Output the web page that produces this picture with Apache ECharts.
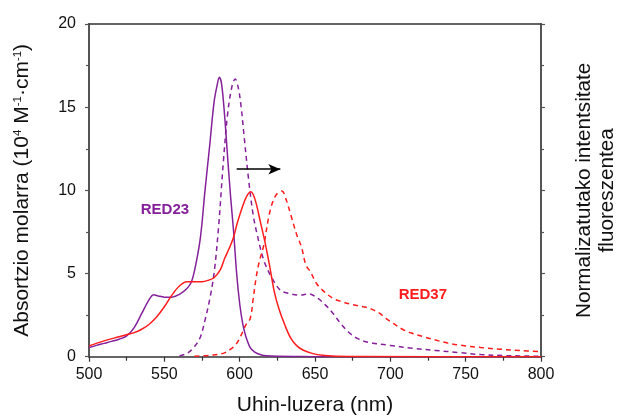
<!DOCTYPE html>
<html>
<head>
<meta charset="utf-8">
<script src="https://cdn.jsdelivr.net/npm/echarts@6/dist/echarts.min.js"></script>
<style>
html,body{margin:0;padding:0;background:#fff;}
#chart{width:619px;height:418px;}
</style>
</head>
<body>
<div id="chart"></div>
<script>
// ---- Data ----
const xTicks = [500, 550, 600, 650, 700, 750, 800];
const yTicks = [0, 5, 10, 15, 20];

// RED23 absorption (solid purple), 10^4 M^-1 cm^-1
const red23AbsWl = [500, 505, 510, 515, 520, 525, 530, 535, 540, 543, 546, 550, 555, 560, 565, 568, 571, 574, 577, 580, 583, 585, 586.5, 588, 590, 592, 594, 596, 598, 600, 602, 604, 607, 610, 614, 618, 625, 640, 660, 800];
const red23Abs   = [0.55, 0.68, 0.8, 0.92, 1.05, 1.25, 1.75, 2.6, 3.45, 3.72, 3.65, 3.58, 3.57, 3.75, 4.1, 4.5, 5.6, 7.2, 10.0, 12.6, 15.3, 16.3, 16.8, 16.4, 14.5, 12.0, 9.6, 7.5, 5.0, 3.2, 2.0, 1.25, 0.55, 0.28, 0.12, 0.05, 0.02, 0.01, 0, 0];

// RED37 absorption (solid red)
const red37AbsWl = [500, 510, 520, 526, 530, 535, 540, 545, 550, 555, 560, 565, 570, 575, 580, 583, 587, 590, 593, 596, 598, 600, 603, 605, 607.3, 609, 611, 614, 617, 620, 623, 626, 630, 634, 638, 642, 648, 655, 665, 680, 800];
const red37Abs   = [0.65, 0.95, 1.2, 1.35, 1.45, 1.65, 1.95, 2.4, 3.0, 3.7, 4.25, 4.5, 4.5, 4.5, 4.62, 4.75, 5.2, 5.9, 6.5, 7.2, 7.9, 8.5, 9.3, 9.7, 9.92, 9.75, 9.2, 8.0, 6.8, 5.4, 3.9, 2.9, 1.9, 1.1, 0.65, 0.4, 0.2, 0.08, 0.03, 0.01, 0];

// RED23 fluorescence (dashed purple), normalized
const red23FlWl = [560, 565, 570, 574, 577, 580, 583, 586, 589, 592, 595, 597, 599, 601, 603, 606, 609, 612, 616, 621, 627, 633, 640, 646, 652, 657, 662, 667, 672, 678, 686, 700, 715, 730, 745, 760, 775, 790, 800];
const red23Fl   = [0.05, 0.2, 0.6, 1.2, 2.2, 3.4, 5.0, 7.8, 11.5, 14.6, 16.3, 16.7, 16.2, 15.0, 13.2, 10.6, 8.5, 7.2, 5.8, 4.8, 4.0, 3.8, 3.7, 3.78, 3.5, 3.1, 2.6, 2.0, 1.5, 1.1, 0.85, 0.68, 0.5, 0.38, 0.25, 0.13, 0.07, 0.04, 0.02];

// RED37 fluorescence (dashed red), normalized
const red37FlWl = [570, 580, 589, 594, 598, 601, 604, 607, 609, 611, 613, 616, 620, 624, 628, 631, 634, 638, 641, 644, 647, 651, 655, 662, 668, 673, 679, 684, 689, 693, 697, 702, 708, 714, 722, 730, 738, 746, 760, 773, 786, 800];
const red37Fl   = [0.02, 0.08, 0.2, 0.45, 0.8, 1.3, 1.9, 2.3, 3.5, 4.8, 5.7, 6.7, 8.7, 9.7, 9.96, 9.4, 8.5, 7.3, 6.6, 5.5, 5.1, 4.4, 4.0, 3.5, 3.3, 3.17, 3.05, 2.97, 2.8, 2.6, 2.3, 2.0, 1.65, 1.42, 1.2, 1.0, 0.82, 0.7, 0.55, 0.45, 0.37, 0.3];

// Annotations
const arrowFrom = [598, 11.27];
const arrowTo   = [627, 11.27];
const label23 = {text: 'RED23', at: [550.4, 8.82]};
const label37 = {text: 'RED37', at: [721.6, 3.71]};

const purple = '#85209a';
const red = '#ff1c1c';
const FONT = '"Liberation Sans", Arial, sans-serif';

function zip(xs, ys){ return xs.map((x,i)=>[x, ys[i]]); }

const chart = echarts.init(document.getElementById('chart'), null, {renderer:'canvas'});
const axisCol = '#555';

const option = {
  backgroundColor: '#fff',
  animation: false,
  textStyle: {fontFamily: FONT},
  grid: {left: 89, right: 78, top: 24, bottom: 61.3, containLabel: false, outerBoundsMode: 'none'},
  xAxis: [{
    type: 'value', min: xTicks[0], max: xTicks[xTicks.length-1], interval: 50,
    position: 'bottom',
    name: 'Uhin-luzera (nm)', nameLocation: 'middle', nameGap: 38,
    nameTextStyle: {fontSize: 21, color: '#111', fontFamily: FONT},
    axisLine: {show: true, onZero: false, lineStyle: {color: '#333', width: 1.5}},
    axisTick: {show: true, inside: false, length: 5, lineStyle: {color: '#333', width: 1.2}},
    minorTick: {show: true, splitNumber: 2, length: 4, lineStyle: {color: '#333', width: 1.2}},
    axisLabel: {fontSize: 16, color: '#111', margin: 10, fontFamily: FONT},
    splitLine: {show: false}
  }, {
    type: 'value', min: xTicks[0], max: xTicks[xTicks.length-1], position: 'top',
    axisLine: {show: true, onZero: false, lineStyle: {color: '#333', width: 1.5}},
    axisTick: {show: false}, axisLabel: {show: false}, splitLine: {show: false}
  }],
  yAxis: [{
    type: 'value', min: yTicks[0], max: yTicks[yTicks.length-1], interval: 5,
    position: 'left',
    name: 'Absortzio molarra (10{sup|4} M{sup|-1}·cm{sup|-1})',
    nameLocation: 'middle', nameGap: 56, nameRotate: 90,
    nameTextStyle: {fontSize: 21, color: '#111', fontFamily: FONT,
      rich: {sup: {fontSize: 11.5, color: '#111', verticalAlign: 'top', fontFamily: FONT, padding: [0,0,6,0]}}},
    axisLine: {show: true, onZero: false, lineStyle: {color: axisCol, width: 2}},
    axisTick: {show: true, inside: false, length: 4, lineStyle: {color: axisCol, width: 1.2}},
    minorTick: {show: true, splitNumber: 2, length: 3, lineStyle: {color: axisCol, width: 1.2}},
    axisLabel: {fontSize: 16, color: '#111', margin: 13, fontFamily: FONT},
    splitLine: {show: false}
  }, {
    type: 'value', min: yTicks[0], max: yTicks[yTicks.length-1], interval: 5,
    position: 'right',
    name: 'Normalizatutako intentsitate\nfluoreszentea',
    nameLocation: 'middle', nameGap: 32, nameRotate: 90,
    nameTextStyle: {fontSize: 20.7, color: '#111', lineHeight: 23, fontFamily: FONT, align: 'center'},
    axisLine: {show: true, onZero: false, lineStyle: {color: axisCol, width: 2}},
    axisTick: {show: true, inside: false, length: 4, lineStyle: {color: axisCol, width: 1.2}},
    minorTick: {show: true, splitNumber: 2, length: 3, lineStyle: {color: axisCol, width: 1.2}},
    axisLabel: {show: false},
    splitLine: {show: false}
  }],
  series: [
    {
      name: 'RED23 abs', type: 'line', xAxisIndex: 0, yAxisIndex: 0,
      data: zip(red23AbsWl, red23Abs), smooth: 0.35, showSymbol: false,
      lineStyle: {color: purple, width: 1.5}, z: 3,
      markPoint: {
        symbol: 'circle', symbolSize: 0, silent: true,
        data: [{coord: label23.at, label: {show: true, formatter: label23.text, color: purple, fontSize: 15, fontWeight: 'bold', fontFamily: FONT, position: 'inside'}}]
      }
    },
    {
      name: 'RED37 abs', type: 'line', xAxisIndex: 0, yAxisIndex: 0,
      data: zip(red37AbsWl, red37Abs), smooth: 0.35, showSymbol: false,
      lineStyle: {color: red, width: 1.5}, z: 4,
      markPoint: {
        symbol: 'circle', symbolSize: 0, silent: true,
        data: [{coord: label37.at, label: {show: true, formatter: label37.text, color: red, fontSize: 15, fontWeight: 'bold', fontFamily: FONT, position: 'inside'}}]
      }
    },
    {
      name: 'RED23 fl', type: 'line', xAxisIndex: 0, yAxisIndex: 1,
      data: zip(red23FlWl, red23Fl), smooth: 0.35, showSymbol: false,
      lineStyle: {color: purple, width: 1.5, type: [5, 4]}, z: 2
    },
    {
      name: 'RED37 fl', type: 'line', xAxisIndex: 0, yAxisIndex: 1,
      data: zip(red37FlWl, red37Fl), smooth: 0.35, showSymbol: false,
      lineStyle: {color: red, width: 1.5, type: [5, 4]}, z: 2,
      markLine: {
        silent: true, symbol: ['none', 'arrow'], symbolSize: [8, 12],
        lineStyle: {color: '#000', width: 1.5, type: 'solid'},
        label: {show: false},
        data: [[{coord: arrowFrom}, {coord: arrowTo}]]
      }
    }
  ]
};
chart.setOption(option);
</script>
</body>
</html>
